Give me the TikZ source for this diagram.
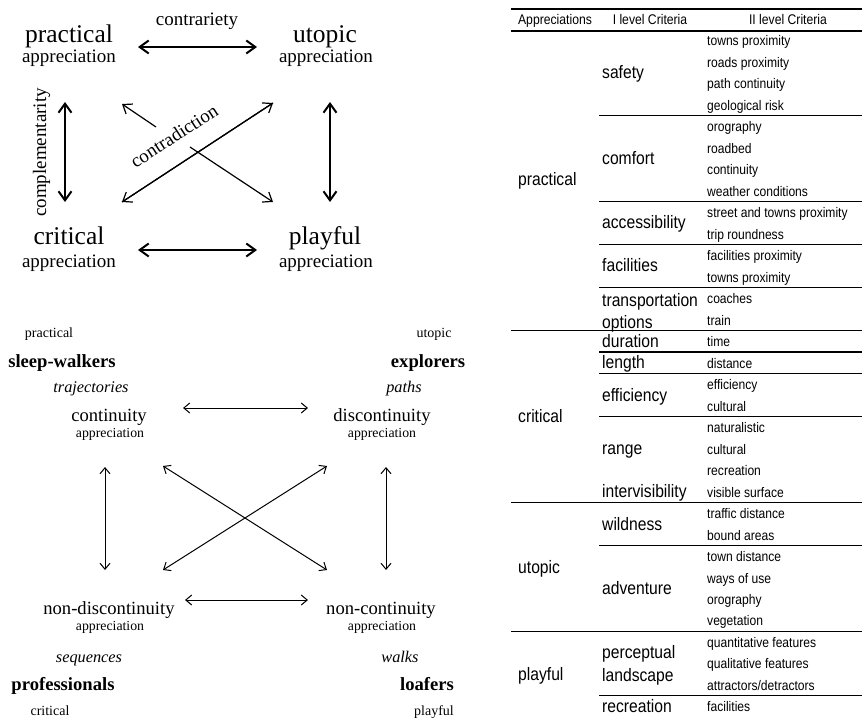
\documentclass[tikz,border=0pt]{standalone}
\usepackage{fontspec}
\setmainfont{Liberation Serif}
\newfontfamily\tabfont[FakeStretch=0.87]{Liberation Sans}
\usetikzlibrary{arrows.meta}
\begin{document}
\begin{tikzpicture}[x=1pt,y=-1pt,
  lab/.style={inner sep=0pt, anchor=base},
  bigt/.style={lab, font=\fontsize{25.5}{30}\selectfont},
  medt/.style={lab, font=\fontsize{19}{23}\selectfont},
  smallt/.style={lab, font=\fontsize{14}{17}\selectfont},
  tinyapp/.style={lab, font=\fontsize{13.8}{17}\selectfont},
  boldt/.style={lab, font=\fontsize{18.6}{22}\selectfont\bfseries},
  itt/.style={lab, font=\fontsize{16.3}{20}\selectfont\itshape},
  conc/.style={lab, font=\fontsize{18.6}{22}\selectfont},
  thickarr/.style={{Straight Barb[length=9pt,width=13pt]}-{Straight Barb[length=9pt,width=13pt]}, line width=2pt},
  diagarr/.style={line width=1.2pt},
  diagtip/.style={-{Straight Barb[length=8pt,width=12pt]}},
  thinarr/.style={{Straight Barb[length=6pt,width=10pt]}-{Straight Barb[length=6pt,width=10pt]}, line width=1pt},
  hdr/.style={lab, font=\tabfont\fontsize{14}{16}\selectfont},
  lone/.style={inner sep=0pt, anchor=base west, font=\tabfont\fontsize{18}{21}\selectfont},
  ltwo/.style={inner sep=0pt, anchor=base west, font=\tabfont\fontsize{13.9}{16}\selectfont},
  rule/.style={line width=1.4pt}
]
\useasboundingbox (0,0) rectangle (865,722);

% ---------- top square ----------
\node[medt] (contr) at (197,26) {contrariety};
\node[bigt] (prac) at (69,43) {practical};
\node[medt] (pracA) at (69,63) {appreciation};
\node[bigt] (utop) at (325,43) {utopic};
\node[medt] (utopA) at (326,63) {appreciation};
\node[bigt] (crit) at (69,245) {critical};
\node[medt] (critA) at (69,267) {appreciation};
\node[bigt] (play) at (325,245) {playful};
\node[medt] (playA) at (326,267) {appreciation};
\node[medt, rotate=90] (compl) at (46,152.5) {complementarity};
\node[medt, anchor=center, rotate=33] (contrad) at (174,136) {contradiction};

\coordinate (th1) at (138,47);  \coordinate (th2) at (257,47);
\coordinate (bh1) at (138,250); \coordinate (bh2) at (257,250);
\coordinate (lv1) at (65,102);  \coordinate (lv2) at (65,202);
\coordinate (rv1) at (330,102); \coordinate (rv2) at (330,202);
\coordinate (rd1) at (122,202); \coordinate (rd2) at (273,103);
\coordinate (fd1) at (122,104); \coordinate (fd2) at (273,202);
\coordinate (fg1) at (156,127); \coordinate (fg2) at (190,147);

\draw[thickarr] (th1) -- (th2);
\draw[thickarr] (bh1) -- (bh2);
\draw[thickarr] (lv1) -- (lv2);
\draw[thickarr] (rv1) -- (rv2);
\draw[diagarr, diagtip] (rd2) -- (rd1);
\draw[diagarr, diagtip] (rd1) -- (rd2);
\draw[diagarr, diagtip] (fg1) -- (fd1);
\draw[diagarr, diagtip] (fg2) -- (fd2);

% ---------- bottom square ----------
\node[smallt] (bprac) at (49,337) {practical};
\node[boldt] (sleep) at (62,367) {sleep-walkers};
\node[itt] (traj) at (91,392) {trajectories};
\node[conc] (cont) at (109,421) {continuity};
\node[tinyapp] (contA) at (110,437) {appreciation};
\node[smallt] (butop) at (434,337) {utopic};
\node[boldt] (expl) at (428,367) {explorers};
\node[itt] (paths) at (404,392) {paths};
\node[conc] (disc) at (382,421) {discontinuity};
\node[tinyapp] (discA) at (382,437) {appreciation};
\node[conc] (ndisc) at (109,614) {non-discontinuity};
\node[tinyapp] (ndiscA) at (110,630) {appreciation};
\node[conc] (ncont) at (381,614) {non-continuity};
\node[tinyapp] (ncontA) at (382,630) {appreciation};
\node[itt] (seq) at (89,662) {sequences};
\node[boldt] (prof) at (63,690) {professionals};
\node[smallt] (bcrit) at (50,715) {critical};
\node[itt] (walks) at (400,662) {walks};
\node[boldt] (loaf) at (427,690) {loafers};
\node[smallt] (bplay) at (434,715) {playful};

\coordinate (bt1) at (183,408); \coordinate (bt2) at (308,408);
\coordinate (bb1) at (185,600); \coordinate (bb2) at (308,600);
\coordinate (bl1) at (105,467); \coordinate (bl2) at (105,570);
\coordinate (br1) at (386,467); \coordinate (br2) at (386,570);
\coordinate (bd1) at (163,466); \coordinate (bd2) at (327,570);
\coordinate (be1) at (163,570); \coordinate (be2) at (327,466);

\draw[thinarr] (bt1) -- (bt2);
\draw[thinarr] (bb1) -- (bb2);
\draw[thinarr] (bl1) -- (bl2);
\draw[thinarr] (br1) -- (br2);
\draw[thinarr] (bd1) -- (bd2);
\draw[thinarr] (be1) -- (be2);

% ---------- table ----------
\draw[rule, line width=1.6pt] (511,9.3) -- (862,9.3);
\draw[rule] (511,31) -- (862,31);
\node[hdr] (h1) at (555,25) {Appreciations};
\node[hdr] (h2) at (650,25) {I level Criteria};
\node[hdr] (h3) at (788,25) {II level Criteria};

\foreach \t [count=\i from 0] in {towns proximity, roads proximity, path continuity, geological risk,
  orography, roadbed, continuity, weather conditions,
  street and towns proximity, trip roundness,
  facilities proximity, towns proximity,
  coaches, train, time, distance, efficiency, cultural,
  naturalistic, cultural, recreation, visible surface,
  traffic distance, bound areas,
  town distance, ways of use, orography, vegetation,
  quantitative features, qualitative features, attractors/detractors, facilities}
  \node[ltwo] (r\i) at (707,46+21.48*\i) {\t};

\foreach \i in {4,8,10,12,15,16,18,24,31}
  \draw[rule] (599,29.76+21.48*\i) -- (862,29.76+21.48*\i);
\foreach \i in {14,22,28}
  \draw[rule] (511,29.76+21.48*\i) -- (862,29.76+21.48*\i);

\node[lone] (a1) at (518,186) {practical};
\node[lone] (a2) at (518,422) {critical};
\node[lone] (a3) at (518,573) {utopic};
\node[lone] (a4) at (518,680) {playful};

\node[lone] (c1) at (602,79) {safety};
\node[lone] (c2) at (602,164.6) {comfort};
\node[lone] (c3) at (602,229) {accessibility};
\node[lone] (c4) at (602,272) {facilities};
\node[lone] (c5) at (602,306) {transportation};
\node[lone] (c5b) at (602,328) {options};
\node[lone] (c6) at (602,347) {duration};
\node[lone] (c7) at (602,368.5) {length};
\node[lone] (c8) at (602,401) {efficiency};
\node[lone] (c9) at (602,454.6) {range};
\node[lone] (c10) at (602,497.6) {intervisibility};
\node[lone] (c11) at (602,530) {wildness};
\node[lone] (c12) at (602,594) {adventure};
\node[lone] (c13) at (602,658.5) {perceptual};
\node[lone] (c13b) at (602,681.5) {landscape};
\node[lone] (c14) at (602,712.4) {recreation};
\end{tikzpicture}
\end{document}
